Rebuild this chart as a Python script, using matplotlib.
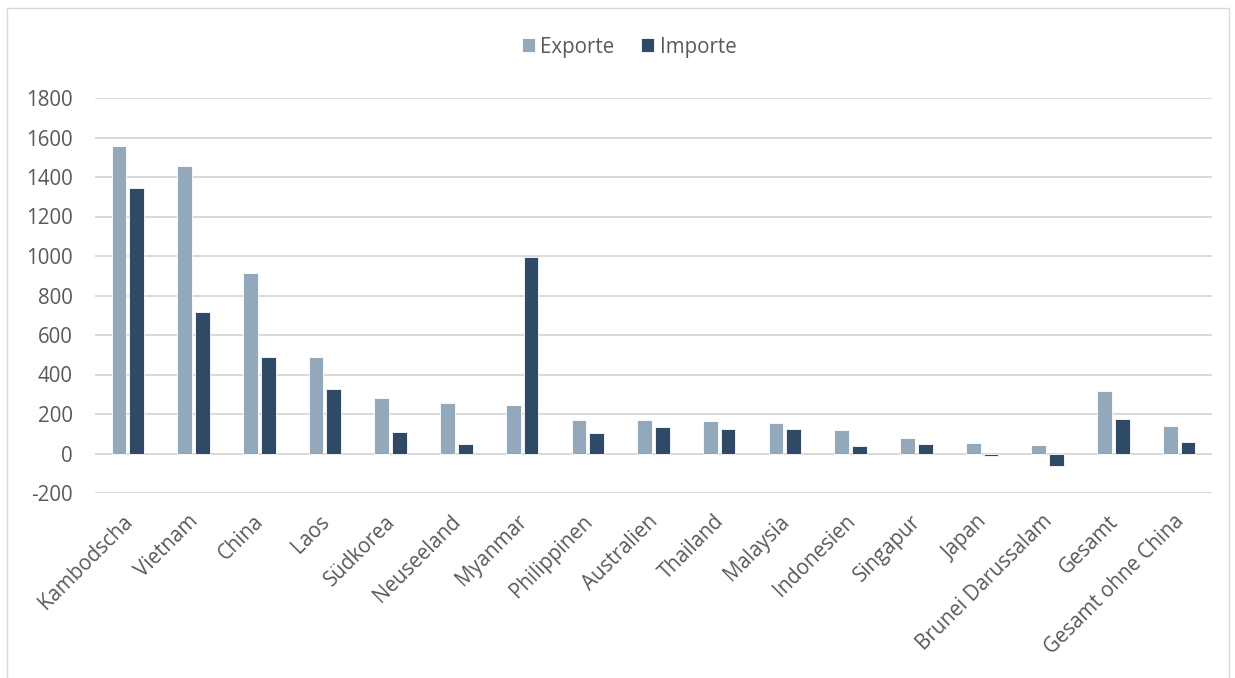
import matplotlib
matplotlib.use("Agg")
import matplotlib.pyplot as plt
import numpy as np
from matplotlib.patches import Rectangle
from matplotlib.transforms import ScaledTranslation

categories = ["Kambodscha", "Vietnam", "China", "Laos", "Südkorea", "Neuseeland",
              "Myanmar", "Philippinen", "Australien", "Thailand", "Malaysia",
              "Indonesien", "Singapur", "Japan", "Brunei Darussalam", "Gesamt",
              "Gesamt ohne China"]
exporte = [1555, 1457, 913, 490, 280, 258, 245, 172, 170, 167, 153, 120, 77, 55, 42, 314, 138]
importe = [1342, 718, 491, 328, 107, 47, 997, 106, 136, 125, 125, 39, 46, -12, -62, 175, 59]
yticks = [-200, 0, 200, 400, 600, 800, 1000, 1200, 1400, 1600, 1800]

col_exp = "#94A8BC"
col_imp = "#2E4A66"
txt = "#595959"

plt.rcParams['font.family'] = ['Open Sans', 'DejaVu Sans']

W, H = 1235, 678
fig = plt.figure(figsize=(W/100, H/100), dpi=100)
ax = fig.add_axes([95/W, 1-493/H, (1212-95)/W, (493-98)/H])

x = np.arange(len(categories))
w = 0.225
ax.bar(x - 0.135, exporte, w, color=col_exp, edgecolor="white", linewidth=0.6, label="Exporte", zorder=3)
ax.bar(x + 0.135, importe, w, color=col_imp, edgecolor="white", linewidth=0.6, label="Importe", zorder=3)

ax.set_xlim(-0.5, len(categories) - 0.5)
ax.set_ylim(-200, 1800)
ax.set_yticks(yticks)
ax.set_yticklabels([str(v) for v in yticks], fontsize=14.8, color=txt)
ax.yaxis.grid(True, color="#D9D9D9", linewidth=1.4, zorder=0)
ax.set_axisbelow(True)
for s in ax.spines.values():
    s.set_visible(False)
ax.tick_params(axis="y", length=0, pad=16)
ax.tick_params(axis="x", length=0, pad=13)
ax.set_xticks(x)
ax.set_xticklabels(categories, rotation=45, ha="right", rotation_mode="anchor",
                   fontsize=14.8, color=txt)
off = ScaledTranslation(-6/100, 0, fig.dpi_scale_trans)
for lbl in ax.get_xticklabels():
    lbl.set_transform(lbl.get_transform() + off)

leg = fig.legend(loc="center", bbox_to_anchor=(629/W, 1-47/H), ncol=2, frameon=False,
                 fontsize=14.8, handlelength=0.65, handleheight=0.65, columnspacing=1.3,
                 handletextpad=0.25)
for t in leg.get_texts():
    t.set_color(txt)

fig.patches.append(Rectangle((7/W, -0.01), (1229-7)/W, 1-8/H + 0.01, transform=fig.transFigure,
                             fill=False, edgecolor="#D9D9D9", linewidth=1))

fig.savefig("out.png", dpi=100)
